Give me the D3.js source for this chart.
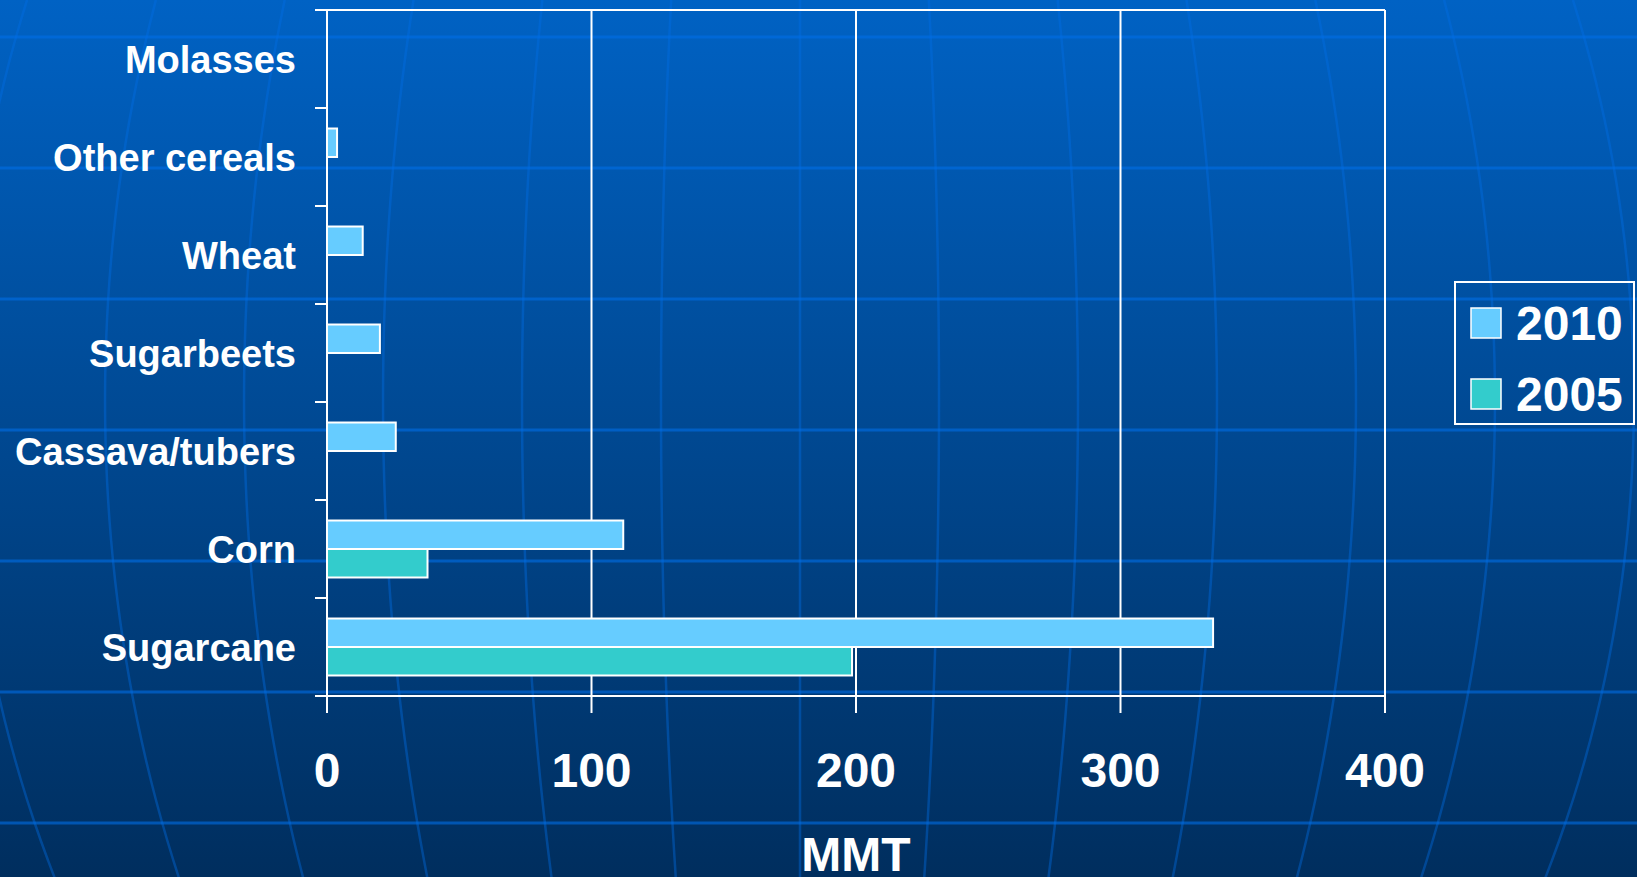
<!DOCTYPE html>
<html>
<head>
<meta charset="utf-8">
<script src="https://cdn.jsdelivr.net/npm/d3@7"></script>
<style>
  html, body { margin: 0; padding: 0; background: #003060; overflow: hidden; }
  text { font-family: "Liberation Sans", Arial, sans-serif; font-weight: bold; fill: #fff; }
</style>
</head>
<body>
<div id="chart"></div>
<script>
const categories = ["Sugarcane", "Corn", "Cassava/tubers", "Sugarbeets", "Wheat", "Other cereals", "Molasses"];
const values2010 = [335, 112, 26, 20, 13.5, 3.8, 0];
const values2005 = [198.5, 38, 0, 0, 0, 0, 0];
const seriesNames = ["2010", "2005"];
const seriesColors = ["#66CCFF", "#33CCCC"];
const xTicks = [0, 100, 200, 300, 400];
const axisTitle = "MMT";

const W = 1637, H = 877;
const plot = { left: 327, right: 1385, top: 10, bottom: 696 };

const svg = d3.select("#chart")
    .append("svg")
    .attr("width", W)
    .attr("height", H);

// background: dark blue gradient with faint globe grid
const grad = svg.append("defs").append("linearGradient")
    .attr("id", "bg").attr("x1", 0).attr("y1", 0).attr("x2", 0).attr("y2", 1);
grad.append("stop").attr("offset", "0%").attr("stop-color", "#0062C4");
grad.append("stop").attr("offset", "100%").attr("stop-color", "#002E5E");
svg.append("rect").attr("width", W).attr("height", H).attr("fill", "url(#bg)");

const deco = svg.append("g")
    .attr("fill", "none")
    .attr("stroke", "rgb(0,110,230)");

d3.range(7).forEach(i => {
    const y = 37 + i * 131;
    deco.append("line").attr("x1", 0).attr("x2", W).attr("y1", y).attr("y2", y)
        .attr("stroke-opacity", 0.6)
        .attr("stroke-width", 3);
});

const meridian = d3.line().curve(d3.curveBasis);
d3.range(-6, 7).forEach(k => {
    const A = k * 139;
    const pts = d3.range(0, H + 20, 20).map(y => {
        const t = (y - 400) / 1065;
        return [800 + A * Math.sqrt(1 - t * t), y];
    });
    deco.append("path").attr("d", meridian(pts))
        .attr("stroke-opacity", 0.4)
        .attr("stroke-width", 2.5);
});

// scales
const x = d3.scaleLinear().domain([0, 400]).range([plot.left, plot.right]);
const y = d3.scaleBand().domain(categories.slice().reverse()).range([plot.top, plot.bottom]);
const ySub = d3.scaleBand().domain(seriesNames).range([0, y.bandwidth()])
    .paddingInner(0).paddingOuter(0.72);

const rows = categories.map((c, i) => ({ category: c, values: [values2010[i], values2005[i]] }));

const grid = svg.append("g").attr("stroke", "#fff").attr("stroke-width", 2);

// vertical gridlines and x ticks
grid.selectAll("line.vgrid")
    .data(xTicks)
    .enter()
    .append("line")
    .attr("class", "vgrid")
    .attr("x1", d => x(d)).attr("x2", d => x(d))
    .attr("y1", plot.top).attr("y2", plot.bottom + 17);

// category boundaries (ticks) plus top and bottom frame
const bounds = y.domain().map(c => y(c)).concat([plot.bottom]);
grid.selectAll("line.ytick")
    .data(bounds)
    .enter()
    .append("line")
    .attr("class", "ytick")
    .attr("x1", plot.left - 12)
    .attr("x2", (d, i) => (i === 0 || i === bounds.length - 1) ? plot.right : plot.left)
    .attr("y1", d => d).attr("y2", d => d);

// bars
const groups = svg.selectAll("g.cat")
    .data(rows)
    .enter()
    .append("g")
    .attr("class", "cat")
    .attr("transform", d => `translate(0,${y(d.category)})`);

groups.selectAll("rect")
    .data(d => d.values.map((v, i) => ({ v, s: seriesNames[i], c: seriesColors[i] })).filter(e => e.v > 0))
    .enter()
    .append("rect")
    .attr("x", x(0))
    .attr("y", d => ySub(d.s))
    .attr("width", d => x(d.v) - x(0))
    .attr("height", ySub.bandwidth())
    .attr("fill", d => d.c)
    .attr("stroke", "#fff")
    .attr("stroke-width", 2);

// category labels
svg.selectAll("text.cat-label")
    .data(categories)
    .enter()
    .append("text")
    .attr("class", "cat-label")
    .attr("x", 296)
    .attr("y", d => y(d) + y.bandwidth() / 2 + 14)
    .attr("text-anchor", "end")
    .style("font-size", "38px")
    .text(d => d);

// x tick labels
svg.selectAll("text.x-label")
    .data(xTicks)
    .enter()
    .append("text")
    .attr("class", "x-label")
    .attr("x", d => x(d))
    .attr("y", 787)
    .attr("text-anchor", "middle")
    .style("font-size", "48px")
    .text(d => d);

svg.append("text")
    .attr("x", (plot.left + plot.right) / 2)
    .attr("y", 871)
    .attr("text-anchor", "middle")
    .style("font-size", "48px")
    .text(axisTitle);

// legend
const legend = svg.append("g");
legend.append("rect")
    .attr("x", 1455).attr("y", 282)
    .attr("width", 179).attr("height", 142)
    .attr("fill", "none")
    .attr("stroke", "#fff")
    .attr("stroke-width", 2);

const items = legend.selectAll("g.item")
    .data(seriesNames)
    .enter()
    .append("g")
    .attr("class", "item")
    .attr("transform", (d, i) => `translate(1471,${308 + i * 71})`);

items.append("rect")
    .attr("width", 30).attr("height", 30)
    .attr("fill", (d, i) => seriesColors[i])
    .attr("stroke", "#fff")
    .attr("stroke-width", 1.5);

items.append("text")
    .attr("x", 45)
    .attr("y", 32)
    .style("font-size", "48px")
    .text(d => d);
</script>
</body>
</html>
